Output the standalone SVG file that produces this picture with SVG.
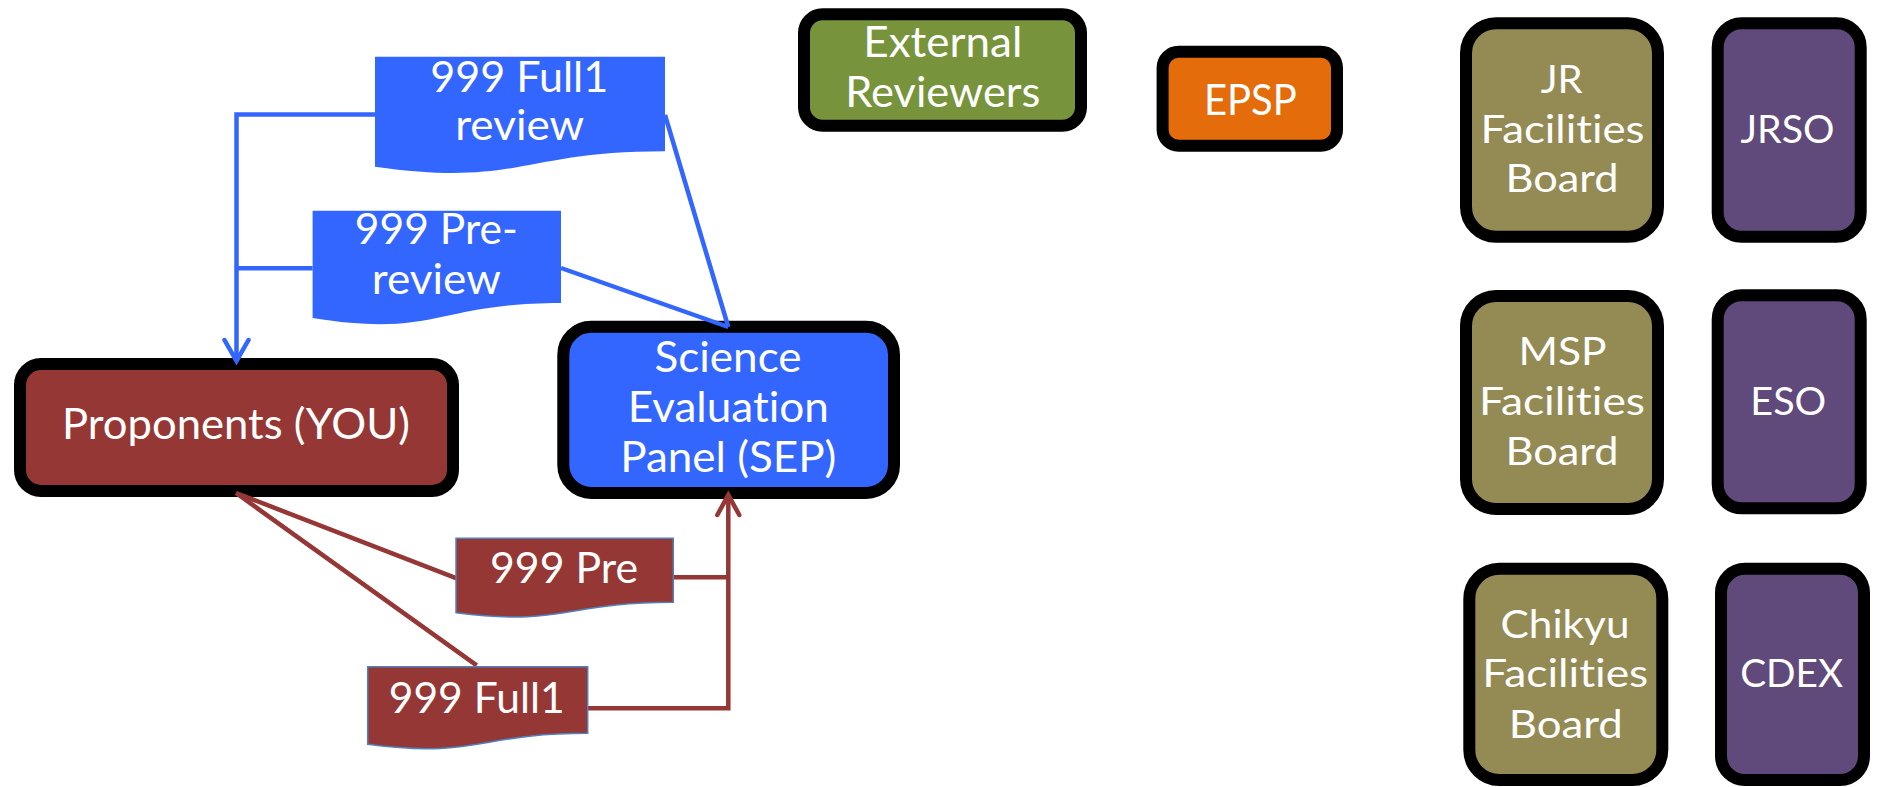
<svg xmlns="http://www.w3.org/2000/svg" width="1877" height="787" viewBox="0 0 1877 787">
  <style>
    .box { stroke: #000; stroke-width: 12; }
    .doc-blue { fill: #3366ff; }
    .doc-red { fill: #953735; stroke: #4f81bd; stroke-width: 1.5; }
    .t { font-family: Lato, "Liberation Sans", sans-serif; fill: #fff; text-anchor: middle; font-size: 42px; font-variant-ligatures: none; }
    .s { font-size: 38px; }
    .blue-line { fill: none; stroke: #3366ff; stroke-width: 4.5; }
    .red-line { fill: none; stroke: #953735; stroke-width: 4.5; }
  </style>
  <defs>
    <marker id="arrow-blue" markerUnits="userSpaceOnUse" markerWidth="28" markerHeight="30" viewBox="0 0 28 30" refX="24" refY="15" orient="auto">
      <path d="M3,3 L24,15 L3,27" fill="none" stroke="#3366ff" stroke-width="4.5" stroke-linecap="round"/>
    </marker>
    <marker id="arrow-red" markerUnits="userSpaceOnUse" markerWidth="28" markerHeight="30" viewBox="0 0 28 30" refX="24" refY="15" orient="auto">
      <path d="M3,4 L23,15 L3,26" fill="none" stroke="#953735" stroke-width="4.5" stroke-linecap="round"/>
    </marker>
  </defs>
  <rect width="1877" height="787" fill="#fff"/>

  <!-- rounded-box nodes -->
  <g id="proponents">
    <rect class="box" x="20" y="364" width="433" height="127" rx="21" fill="#953735"/>
    <text class="t" x="236" y="439" textLength="348" lengthAdjust="spacingAndGlyphs">Proponents (YOU)</text>
  </g>
  <g id="sep">
    <rect class="box" x="563.3" y="326.7" width="330.7" height="166.3" rx="28" fill="#3366ff"/>
    <text class="t" x="728" y="371.7" textLength="147" lengthAdjust="spacingAndGlyphs">Science</text>
    <text class="t" x="728.3" y="421.7" textLength="201" lengthAdjust="spacingAndGlyphs">Evaluation</text>
    <text class="t" x="728.3" y="471.7" textLength="216" lengthAdjust="spacingAndGlyphs">Panel (SEP)</text>
  </g>
  <g id="external-reviewers">
    <rect class="box" x="804" y="14.3" width="277" height="111.4" rx="18.5" fill="#77933c"/>
    <text class="t" x="942.8" y="56.7" textLength="159" lengthAdjust="spacingAndGlyphs">External</text>
    <text class="t" x="942.8" y="106.7" textLength="195" lengthAdjust="spacingAndGlyphs">Reviewers</text>
  </g>
  <g id="epsp">
    <rect class="box" x="1162.6" y="51.7" width="174.4" height="94" rx="16" fill="#e46c0a"/>
    <text class="t" x="1250.4" y="115" textLength="93" lengthAdjust="spacingAndGlyphs">EPSP</text>
  </g>

  <g id="jr-facilities-board">
    <rect class="box" x="1466" y="23.3" width="192" height="213.4" rx="30" fill="#948a54"/>
    <text class="t s" x="1561.7" y="93.3" textLength="42" lengthAdjust="spacingAndGlyphs">JR</text>
    <text class="t s" x="1562.5" y="142.7" textLength="164" lengthAdjust="spacingAndGlyphs">Facilities</text>
    <text class="t s" x="1562" y="192" textLength="113" lengthAdjust="spacingAndGlyphs">Board</text>
  </g>
  <g id="jrso">
    <rect class="box" x="1717.7" y="23.3" width="143" height="213.4" rx="24" fill="#604a7b"/>
    <text class="t s" x="1787.5" y="142.7" textLength="94" lengthAdjust="spacingAndGlyphs">JRSO</text>
  </g>
  <g id="msp-facilities-board">
    <rect class="box" x="1466" y="296" width="192" height="213" rx="30" fill="#948a54"/>
    <text class="t s" x="1562.5" y="365" textLength="88" lengthAdjust="spacingAndGlyphs">MSP</text>
    <text class="t s" x="1562" y="415" textLength="166" lengthAdjust="spacingAndGlyphs">Facilities</text>
    <text class="t s" x="1562" y="465" textLength="113" lengthAdjust="spacingAndGlyphs">Board</text>
  </g>
  <g id="eso">
    <rect class="box" x="1717.7" y="295.3" width="143" height="213" rx="24" fill="#604a7b"/>
    <text class="t s" x="1788.3" y="415" textLength="76" lengthAdjust="spacingAndGlyphs">ESO</text>
  </g>
  <g id="chikyu-facilities-board">
    <rect class="box" x="1469.3" y="568.7" width="193" height="211.3" rx="30" fill="#948a54"/>
    <text class="t s" x="1565" y="638.3" textLength="129" lengthAdjust="spacingAndGlyphs">Chikyu</text>
    <text class="t s" x="1565.3" y="686.7" textLength="166" lengthAdjust="spacingAndGlyphs">Facilities</text>
    <text class="t s" x="1565.8" y="738.3" textLength="114" lengthAdjust="spacingAndGlyphs">Board</text>
  </g>
  <g id="cdex">
    <rect class="box" x="1721" y="568.7" width="143" height="211.3" rx="24" fill="#604a7b"/>
    <text class="t s" x="1791.7" y="686.7" textLength="103" lengthAdjust="spacingAndGlyphs">CDEX</text>
  </g>

  <!-- connectors -->
  <g id="connectors">
    <path class="blue-line" d="M375,114.5 H236.5 V361" marker-end="url(#arrow-blue)"/>
    <path class="blue-line" d="M312.6,268.3 H236.5"/>
    <path class="blue-line" d="M665,115 L728.3,327"/>
    <path class="blue-line" d="M561,268 L728.3,327"/>
    <path class="red-line" d="M236,493 L456.7,578.3"/>
    <path class="red-line" d="M236,493 L476.7,665.3"/>
    <path class="red-line" d="M673.3,577.3 H728.3"/>
    <path class="red-line" d="M587.7,708.3 H728.3 V494" marker-end="url(#arrow-red)"/>
  </g>

  <!-- document nodes -->
  <g id="doc-full1-review">
    <path class="doc-blue" d="M375,56.7 H665 V151.2 C520,151.2 520,187.2 375,166.7 Z"/>
    <text class="t" x="519.2" y="91.7" textLength="178" lengthAdjust="spacingAndGlyphs">999 Full1</text>
    <text class="t" x="519.7" y="140" textLength="129" lengthAdjust="spacingAndGlyphs">review</text>
  </g>
  <g id="doc-pre-review">
    <path class="doc-blue" d="M312.6,210.7 H561 V302.9 C436.8,302.9 436.8,338.1 312.6,318.1 Z"/>
    <text class="t" x="436.3" y="244" textLength="163" lengthAdjust="spacingAndGlyphs">999 Pre-</text>
    <text class="t" x="436.3" y="294" textLength="129" lengthAdjust="spacingAndGlyphs">review</text>
  </g>
  <g id="doc-pre">
    <path class="doc-red" d="M456,538.3 H673.3 V602.2 C564.7,602.2 564.7,626.6 456,612.7 Z"/>
    <text class="t" x="564" y="582.7" textLength="148" lengthAdjust="spacingAndGlyphs">999 Pre</text>
  </g>
  <g id="doc-full1">
    <path class="doc-red" d="M367.7,666.7 H587.7 V733.3 C477.7,733.3 477.7,758.7 367.7,744.3 Z"/>
    <text class="t" x="476.7" y="713.3" textLength="176" lengthAdjust="spacingAndGlyphs">999 Full1</text>
  </g>
</svg>
